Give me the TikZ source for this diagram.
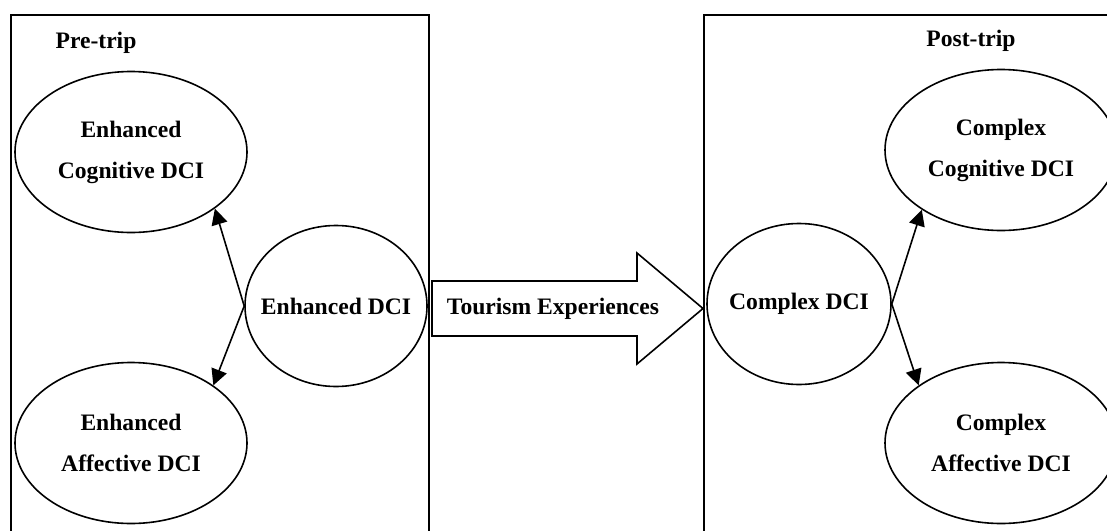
\documentclass[tikz,border=0pt]{standalone}
\usepackage{fontspec}
\setmainfont{Liberation Serif}
\usetikzlibrary{arrows.meta,shapes.geometric}
\begin{document}
\begin{tikzpicture}[x=0.5pt, y=-0.5pt, line width=0.8pt,
  font=\fontsize{11.8}{20.5}\selectfont\bfseries,
  main/.style = {draw, ellipse, align=center, inner sep=0pt, minimum width=116pt, minimum height=80.5pt},
  core/.style = {draw, ellipse, align=center, inner ysep=0pt, inner xsep=-12pt, minimum width=91pt, minimum height=80.5pt},
  link/.style = {-{Triangle[length=8pt,width=8pt]}}]
\useasboundingbox (0,0) rectangle (1107,530);
\clip (0,0) rectangle (1107,530);

% the two phases
\draw (11,15) rectangle (429,545);
\draw (704,15) rectangle (1120,545);
\node (pre) at (96,43) {Pre-trip};
\node (post) at (971,41) {Post-trip};

\node[main] (ecog) at (131,152) {Enhanced\\Cognitive DCI};
\node[main] (eaff) at (131,443) {Enhanced\\Affective DCI};
\node[core] (edci) at (336,306) {Enhanced DCI};

\node[core, minimum width=92pt] (cdci) at (799,304) {Complex DCI};
\node[main] (ccog) at (1001,150) {Complex\\Cognitive DCI};
\node[main] (caff) at (1001,443) {Complex\\Affective DCI};

% big arrow
\draw (432,281) -- (637,281) -- (637,253) -- (703,308.5) -- (637,364) -- (637,336) -- (432,336) -- cycle;
\node (tour) at (553,308.5) {Tourism Experiences};

\draw[link] (edci.west) -- (ecog.-34);
\draw[link] (edci.west) -- (eaff.35);
\draw[link] (cdci.east) -- (ccog.-143);
\draw[link] (cdci.east) -- (caff.145);

\end{tikzpicture}
\end{document}
